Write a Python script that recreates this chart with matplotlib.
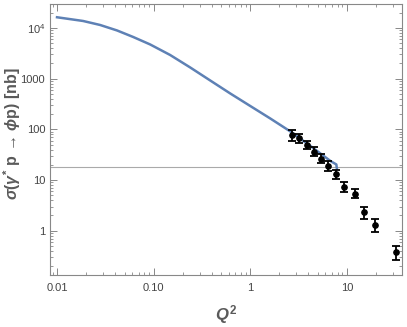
import numpy as np
import matplotlib
matplotlib.use("Agg")
import matplotlib.pyplot as plt
from matplotlib.ticker import FixedLocator, FixedFormatter, LogLocator, NullFormatter

plt.rcParams['font.family'] = ['Liberation Sans', 'DejaVu Sans']
plt.rcParams['mathtext.fontset'] = 'custom'
plt.rcParams['mathtext.rm'] = 'Liberation Sans:bold'
plt.rcParams['mathtext.it'] = 'Liberation Sans:italic:bold'
plt.rcParams['mathtext.bf'] = 'Liberation Sans:bold'
plt.rcParams['mathtext.fallback'] = 'stixsans'

# model curve
curve_q2 = [0.01, 0.0186, 0.0279, 0.0418, 0.0613, 0.092, 0.148, 0.239, 0.385,
            0.62, 1.0, 1.61, 2.6, 4.19, 6.75, 7.78, 7.88]
curve_sig = [16260, 13740, 11460, 8930, 6650, 4730, 2935, 1663, 921,
             511, 289, 164, 90.9, 47.1, 23.8, 20.3, 16.8]

# measured points
q2 = [2.71, 3.2, 3.85, 4.52, 5.38, 6.4, 7.7, 9.4, 12.1, 15.1, 19.5, 32.0]
sig = [75.8, 67.4, 49.0, 36.2, 26.3, 19.1, 13.1, 7.28, 5.37, 2.30, 1.30, 0.373]
sig_hi = [95.0, 81.9, 59.6, 44.8, 32.0, 23.3, 16.0, 8.97, 6.64, 2.97, 1.72, 0.50]
sig_lo = [59.6, 54.4, 40.1, 29.2, 21.6, 15.2, 10.6, 5.88, 4.42, 1.70, 0.925, 0.26]

ref_level = 17.8

x_ticks = [0.01, 0.1, 1, 10]
x_labels = ["0.01", "0.10", "1", "10"]
y_ticks = [1, 10, 100, 1000, 10000]
y_labels = ["1", "10", "100", "1000", r"$\mathregular{10^4}$"]

fig = plt.figure(figsize=(4.07, 3.27), dpi=100)
ax = fig.add_axes([50/407, 52/327, 352/407, 271/327])

ax.plot(curve_q2, curve_sig, color="#5E81B5", lw=1.8, zorder=3,
        solid_joinstyle="round")
ax.axhline(ref_level, color="#aaaaaa", lw=0.8, zorder=1)

s = np.array(sig)
yerr = [s - np.array(sig_lo), np.array(sig_hi) - s]
ax.errorbar(q2, sig, yerr=yerr, fmt="o", color="black", ms=3.8, elinewidth=1.3,
            capsize=3, capthick=1.3, zorder=4)

ax.set_xscale("log")
ax.set_yscale("log")
ax.set_xlim(0.00846, 37.2)
ax.set_ylim(0.134, 29700)

ax.xaxis.set_major_locator(FixedLocator(x_ticks))
ax.xaxis.set_major_formatter(FixedFormatter(x_labels))
ax.yaxis.set_major_locator(FixedLocator(y_ticks))
ax.yaxis.set_major_formatter(FixedFormatter(y_labels))
ax.xaxis.set_minor_locator(LogLocator(base=10, subs=np.arange(2, 10)))
ax.yaxis.set_minor_locator(LogLocator(base=10, subs=np.arange(2, 10)))
ax.xaxis.set_minor_formatter(NullFormatter())
ax.yaxis.set_minor_formatter(NullFormatter())

gray = "#888888"
for sp in ax.spines.values():
    sp.set_color(gray)
    sp.set_linewidth(0.8)
ax.tick_params(which="both", direction="in", top=True, right=True, color=gray,
               labelcolor="#444444", labelsize=8)
ax.tick_params(which="major", length=5, width=0.7)
ax.tick_params(which="minor", length=2.5, width=0.6)
ax.tick_params(axis="x", pad=6)

fig.text(12/407, 0.592,
         r"$\mathit{\sigma}$($\mathit{\gamma}^{*}$ p → $\mathit{\phi}$p) [nb]",
         fontsize=11.5, fontweight="bold", color="#5a5a5a", rotation=90,
         ha="center", va="center")
ax.set_xlabel(r"$\mathit{Q}^{2}$", fontsize=12, color="#5a5a5a", labelpad=7)

fig.savefig("out.png", dpi=100)
